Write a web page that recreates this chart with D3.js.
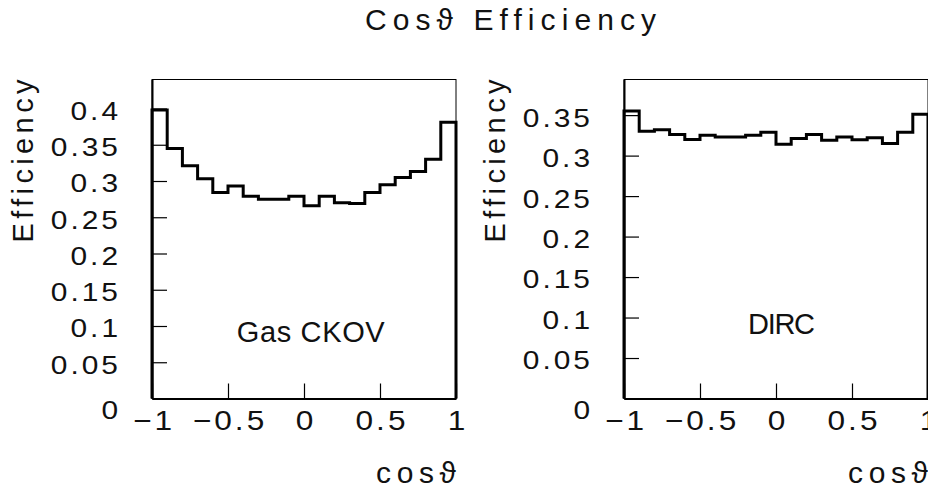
<!DOCTYPE html>
<html>
<head>
<meta charset="utf-8">
<script src="https://cdn.jsdelivr.net/npm/d3@7"></script>
<style>
  html, body { margin: 0; padding: 0; background: #fff; }
  svg { display: block; }
  text { font-family: "Liberation Sans", Arial, sans-serif; fill: #111; }
</style>
</head>
<body>
<svg id="chart" width="928" height="493"></svg>
<script>
// Bin lower edges in cos(theta), bin width 0.1
const binEdges = [-1.0, -0.9, -0.8, -0.7, -0.6, -0.5, -0.4, -0.3, -0.2, -0.1,
                   0.0,  0.1,  0.2,  0.3,  0.4,  0.5,  0.6,  0.7,  0.8,  0.9];
const binWidth = 0.1;

// Efficiency per bin
const gasCkov = [0.398, 0.345, 0.321, 0.303, 0.284, 0.293, 0.279, 0.275, 0.275, 0.279,
                 0.266, 0.279, 0.270, 0.269, 0.284, 0.295, 0.305, 0.313, 0.330, 0.381];
const dirc    = [0.355, 0.330, 0.332, 0.326, 0.320, 0.325, 0.323, 0.323, 0.325, 0.329,
                 0.314, 0.321, 0.326, 0.319, 0.323, 0.3195, 0.322, 0.315, 0.329, 0.351];

const xTicks = [-1, -0.5, 0, 0.5, 1];
const yTicksGas  = [0, 0.05, 0.1, 0.15, 0.2, 0.25, 0.3, 0.35, 0.4];
const yTicksDirc = [0, 0.05, 0.1, 0.15, 0.2, 0.25, 0.3, 0.35];

const yMaxGas = 0.44;
const yMaxDirc = 0.394;

const panels = [
  { name: "Gas CKOV", values: gasCkov, yTicks: yTicksGas, yMax: yMaxGas,
    left: 152, labelX: 236.7, labelY: 341.7, labelLen: 148 },
  { name: "DIRC", values: dirc, yTicks: yTicksDirc, yMax: yMaxDirc,
    left: 624, labelX: 748, labelY: 334.3, labelLen: 67 }
];

const svg = d3.select("#chart");
const W = 304, H = 319, TOP = 79.5;
const SX = 1.15;   // horizontal stretch of tick label glyphs
const LS = 3;      // tick label letter spacing (on screen)

// Title
svg.append("text")
  .attr("x", 365).attr("y", 30)
  .attr("font-size", 30)
  .attr("textLength", 291).attr("lengthAdjust", "spacing")
  .text("Cos\u03D1 Efficiency");

panels.forEach(p => {
  const g = svg.append("g").attr("transform", `translate(${p.left},${TOP})`);
  const x = d3.scaleLinear().domain([-1, 1]).range([0, W]);
  const y = d3.scaleLinear().domain([0, p.yMax]).range([H, 0]);

  // Frame
  g.append("rect").attr("x", 0).attr("y", 0).attr("width", W).attr("height", H)
    .attr("fill", "none").attr("stroke", "#000").attr("stroke-width", 1);

  // Left axis with inward ticks
  const ya = g.append("g").call(
    d3.axisLeft(y).tickValues(p.yTicks).tickSize(-15).tickSizeOuter(0)
      .tickPadding(0).tickFormat(d => String(d)));
  ya.select(".domain").attr("stroke-width", 2);
  ya.selectAll(".tick line").attr("stroke-width", 1.2);
  ya.selectAll(".tick text")
    .attr("font-size", 26).attr("letter-spacing", LS / SX)
    .attr("font-family", "Liberation Sans, Arial, sans-serif").attr("fill", "#111")
    .attr("transform", `scale(${SX},1)`)
    .attr("x", (-34 + LS) / SX)
    .attr("dy", d => d === 0 ? "0.75em" : "0.42em");

  // Bottom axis with inward ticks
  const xa = g.append("g").attr("transform", `translate(0,${H})`).call(
    d3.axisBottom(x).tickValues(xTicks).tickSize(-15).tickSizeOuter(0)
      .tickPadding(11.8).tickFormat(d3.format("")));
  xa.select(".domain").attr("stroke-width", 2);
  xa.selectAll(".tick line").attr("stroke-width", 1.2);
  xa.selectAll(".tick text")
    .attr("font-size", 27.5).attr("letter-spacing", LS / SX)
    .attr("transform", `scale(${SX},1)`)
    .attr("x", LS / 2 / SX)
    .attr("font-family", "Liberation Sans, Arial, sans-serif").attr("fill", "#111");

  // Histogram outline
  const pts = [[-1, 0]];
  p.values.forEach((v, i) => {
    pts.push([binEdges[i], v]);
    pts.push([binEdges[i] + binWidth, v]);
  });
  pts.push([1, 0]);
  g.append("path")
    .attr("d", d3.line().x(d => x(d[0])).y(d => y(d[1]))(pts))
    .attr("fill", "none").attr("stroke", "#000").attr("stroke-width", 3)
    .attr("stroke-linejoin", "miter");

  // Detector label
  svg.append("text")
    .attr("x", p.labelX).attr("y", p.labelY)
    .attr("font-size", 29)
    .attr("textLength", p.labelLen).attr("lengthAdjust", "spacing")
    .text(p.name);

  // Y axis title
  svg.append("text")
    .attr("transform", `translate(${p.left - 118.7},${TOP}) rotate(-90)`)
    .attr("text-anchor", "end")
    .attr("font-size", 29)
    .attr("textLength", 163).attr("lengthAdjust", "spacing")
    .text("Efficiency");

  // X axis title
  svg.append("text")
    .attr("x", p.left + W).attr("y", 482.7)
    .attr("text-anchor", "end")
    .attr("font-size", 30)
    .attr("textLength", 80).attr("lengthAdjust", "spacing")
    .text("cos\u03D1");
});
</script>
</body>
</html>
